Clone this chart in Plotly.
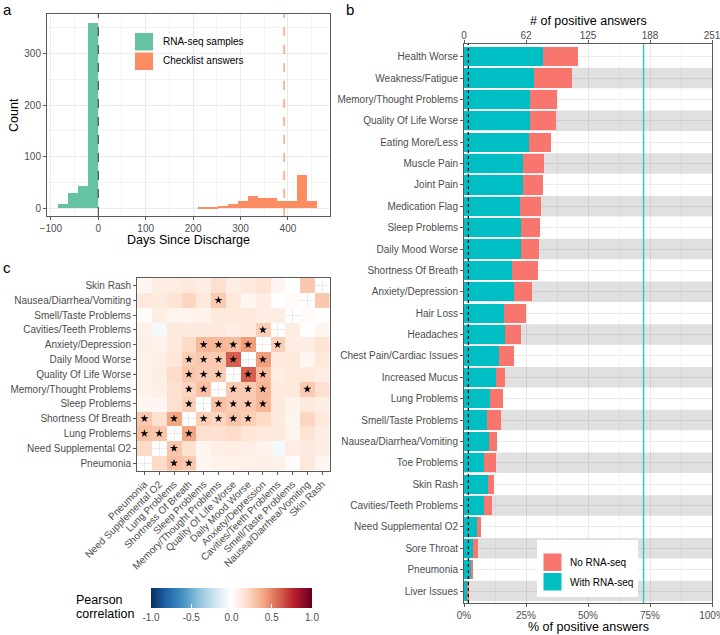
import plotly.graph_objects as go

W, H = 720, 635
FONT = "Liberation Sans"
TICK_GREY = "#4d4d4d"
GRID = "#ebebeb"
GRID_MINOR = "#f3f3f3"
BORDER = "#5a5a5a"

COL_RNASEQ = "#66C2A5"
COL_CHECK = "#FC8D62"
COL_WITH = "#00BFC4"
COL_WITHOUT = "#F8766D"

# ── a: days since discharge ────────────────────────────────────────────────────
BINWIDTH = 21
rnaseq_bin_start = [-84, -63, -42, -21]
rnaseq_counts = [8, 30, 43, 360]
checklist_bin_start = [210, 231, 252, 273, 294, 315, 336, 357, 378, 399, 420, 441]
checklist_counts = [1, 1, 4, 8, 14, 23, 20, 20, 13, 13, 64, 14]
checklist_median_day = 392
days_ticks = [-100, 0, 100, 200, 300, 400]
days_minor = [-50, 50, 150, 250, 350, 450]
count_ticks = [0, 100, 200, 300]
count_minor = [50, 150, 250, 350]

# ── b: positive answers per symptom ────────────────────────────────────────────
symptoms = [
    "Health Worse", "Weakness/Fatigue", "Memory/Thought Problems",
    "Quality Of Life Worse", "Eating More/Less", "Muscle Pain", "Joint Pain",
    "Medication Flag", "Sleep Problems", "Daily Mood Worse",
    "Shortness Of Breath", "Anxiety/Depression", "Hair Loss", "Headaches",
    "Chest Pain/Cardiac Issues", "Increased Mucus", "Lung Problems",
    "Smell/Taste Problems", "Nausea/Diarrhea/Vomiting", "Toe Problems",
    "Skin Rash", "Cavities/Teeth Problems", "Need Supplemental O2",
    "Sore Throat", "Pneumonia", "Liver Issues",
]
pct_with_rnaseq = [32.0, 28.1, 26.5, 26.5, 26.2, 23.8, 23.8, 22.5, 23.0, 23.0,
                   19.4, 20.2, 16.1, 16.7, 14.1, 13.0, 10.5, 9.4, 10.1, 8.1,
                   9.6, 8.1, 5.4, 3.6, 3.2, 1.3]
pct_no_rnaseq = [14.1, 15.4, 10.9, 10.5, 8.7, 8.4, 7.9, 8.5, 7.6, 7.1,
                 10.3, 7.1, 8.8, 6.3, 6.1, 3.6, 5.2, 5.5, 3.2, 4.8,
                 2.5, 3.2, 1.5, 2.2, 0.6, 0.8]
rnaseq_share = 72.4
detection_floor = 1.75
pct_ticks = [0, 25, 50, 75, 100]
pct_minor = [12.5, 37.5, 62.5, 87.5]
n_answers_labels = ["0", "62", "125", "188", "251"]

# ── c: correlation between symptoms ────────────────────────────────────────────
corr_vars = [
    "Pneumonia", "Need Supplemental O2", "Lung Problems", "Shortness Of Breath",
    "Sleep Problems", "Memory/Thought Problems", "Quality Of Life Worse",
    "Daily Mood Worse", "Anxiety/Depression", "Cavities/Teeth Problems",
    "Smell/Taste Problems", "Nausea/Diarrhea/Vomiting", "Skin Rash",
]
# lower triangle, row i holds correlations with columns 0..i-1
corr_lower = [
    [],
    [0.20],
    [0.30, 0.28],
    [0.27, 0.16, 0.40],
    [0.05, 0.05, 0.17, 0.25],
    [0.07, 0.09, 0.17, 0.22, 0.30],
    [0.07, 0.10, 0.19, 0.28, 0.26, 0.26],
    [0.08, 0.09, 0.14, 0.25, 0.27, 0.26, 0.60],
    [0.09, 0.07, 0.12, 0.20, 0.33, 0.33, 0.32, 0.42],
    [0.08, -0.05, 0.12, 0.11, 0.11, 0.12, 0.10, 0.12, 0.25],
    [0.02, 0.10, 0.06, 0.06, 0.07, 0.12, 0.12, 0.12, 0.10, 0.10],
    [0.13, 0.11, 0.15, 0.22, 0.12, 0.26, 0.12, 0.05, 0.10, 0.00, 0.03],
    [0.05, 0.10, 0.10, 0.12, 0.10, 0.17, 0.10, 0.12, 0.15, 0.05, 0.00, 0.27],
]
signif_pairs = [
    (2, 0), (3, 0), (2, 1), (3, 2), (4, 3), (5, 3), (6, 3), (7, 3),
    (5, 4), (6, 4), (7, 4), (8, 4), (6, 5), (7, 5), (8, 5), (11, 5),
    (7, 6), (8, 6), (8, 7), (9, 8),
]
corr_ticks = [-1.0, -0.5, 0.0, 0.5, 1.0]
RDBU = ["#053061", "#2166ac", "#4393c3", "#92c5de", "#d1e5f0", "#ffffff",
        "#fddbc7", "#f4a582", "#d6604d", "#b2182b", "#67001f"]


def px_x(v):
    return v / W


def px_y(v):
    return 1 - v / H


def axis_style(**kw):
    d = dict(
        showline=True, mirror=True, linecolor=BORDER, linewidth=1,
        ticks="outside", ticklen=3, tickcolor=BORDER, tickwidth=1,
        tickfont=dict(size=10, color=TICK_GREY, family=FONT),
        showgrid=True, gridcolor=GRID, gridwidth=1, zeroline=False,
        fixedrange=True, automargin=False, ticklabeloverflow="allow",
    )
    d.update(kw)
    return d


fig = go.Figure()

# a
fig.add_trace(go.Bar(
    x=rnaseq_bin_start, y=rnaseq_counts, width=BINWIDTH, offset=0,
    marker=dict(color=COL_RNASEQ, line_width=0),
    xaxis="x", yaxis="y", showlegend=False,
))
fig.add_trace(go.Bar(
    x=checklist_bin_start, y=checklist_counts, width=BINWIDTH, offset=0,
    marker=dict(color=COL_CHECK, line_width=0),
    xaxis="x", yaxis="y", showlegend=False,
))

# b
fig.add_trace(go.Bar(
    y=symptoms, x=pct_with_rnaseq, orientation="h", width=0.9,
    marker=dict(color=COL_WITH, line_width=0),
    xaxis="x2", yaxis="y2", showlegend=False,
))
fig.add_trace(go.Bar(
    y=symptoms, x=pct_no_rnaseq, orientation="h", width=0.9,
    marker=dict(color=COL_WITHOUT, line_width=0),
    xaxis="x2", yaxis="y2", showlegend=False,
))
# keeps the top count axis alive
fig.add_trace(go.Scatter(
    x=[0, 100], y=[symptoms[0], symptoms[0]], mode="markers",
    marker=dict(opacity=0), hoverinfo="skip",
    xaxis="x4", yaxis="y2", showlegend=False,
))

# c
n = len(corr_vars)
z = [[None] * n for _ in range(n)]
for i, row in enumerate(corr_lower):
    for j, v in enumerate(row):
        z[i][j] = v
        z[j][i] = v

fig.add_trace(go.Heatmap(
    z=z, x=corr_vars, y=corr_vars, zmin=-1, zmax=1,
    colorscale=[[k / (len(RDBU) - 1), c] for k, c in enumerate(RDBU)],
    hoverongaps=False, xaxis="x3", yaxis="y3",
    colorbar=dict(
        orientation="h", x=px_x(231.5), xanchor="center",
        y=px_y(588), yanchor="top",
        lenmode="pixels", len=161, thicknessmode="pixels", thickness=20,
        outlinewidth=0, xpad=0, ypad=0,
        tickvals=corr_ticks, ticktext=[f"{t:.1f}" for t in corr_ticks],
        ticks="inside", tickcolor="white", ticklen=4,
        tickfont=dict(size=10, color=TICK_GREY, family=FONT),
    ),
))
star_x, star_y = [], []
for i, j in signif_pairs:
    star_x += [corr_vars[j], corr_vars[i]]
    star_y += [corr_vars[i], corr_vars[j]]
fig.add_trace(go.Scatter(
    x=star_x, y=star_y, mode="markers",
    marker=dict(symbol="star", size=6, color="black", line_width=0),
    xaxis="x3", yaxis="y3", showlegend=False, hoverinfo="skip",
))

shapes = []
# a: reference lines
shapes.append(dict(type="line", xref="x", yref="y domain", x0=0, x1=0, y0=0, y1=1,
                   line=dict(color="#333333", width=1, dash="dash")))
shapes.append(dict(type="line", xref="x", yref="y domain",
                   x0=checklist_median_day, x1=checklist_median_day, y0=0, y1=1,
                   line=dict(color=COL_CHECK, width=1.2, dash="dash")))
# b: alternating bands
for i in range(1, len(symptoms), 2):
    shapes.append(dict(type="rect", xref="x2", yref="y2", x0=0, x1=100,
                       y0=i - 0.48, y1=i + 0.48, fillcolor="rgba(0,0,0,0.12)",
                       line_width=0, layer="between"))
shapes.append(dict(type="line", xref="x2", yref="y2 domain",
                   x0=rnaseq_share, x1=rnaseq_share, y0=0, y1=1,
                   line=dict(color="#2cc5cb", width=1.4)))
shapes.append(dict(type="line", xref="x2", yref="y2 domain",
                   x0=detection_floor, x1=detection_floor, y0=0, y1=1,
                   line=dict(color="black", width=1.2, dash="dot")))

# legends drawn by hand (ggplot style square keys)
shapes += [
    dict(type="rect", xref="paper", yref="paper", x0=px_x(135), x1=px_x(153),
         y0=px_y(50.5), y1=px_y(33), fillcolor=COL_RNASEQ, line_width=0),
    dict(type="rect", xref="paper", yref="paper", x0=px_x(135), x1=px_x(153),
         y0=px_y(70), y1=px_y(52.5), fillcolor=COL_CHECK, line_width=0),
    dict(type="rect", xref="paper", yref="paper", x0=px_x(537), x1=px_x(638),
         y0=px_y(597), y1=px_y(540), fillcolor="white", line_width=0),
    dict(type="rect", xref="paper", yref="paper", x0=px_x(543.5), x1=px_x(561.5),
         y0=px_y(571), y1=px_y(553.5), fillcolor=COL_WITHOUT, line_width=0),
    dict(type="rect", xref="paper", yref="paper", x0=px_x(543.5), x1=px_x(561.5),
         y0=px_y(590.5), y1=px_y(573), fillcolor=COL_WITH, line_width=0),
]


def label(text, x, y, size=10, color="black", xanchor="left", angle=0, yanchor="middle"):
    return dict(text=text, x=px_x(x), y=px_y(y), xref="paper", yref="paper",
                xanchor=xanchor, yanchor=yanchor, showarrow=False, textangle=angle,
                font=dict(size=size, color=color, family=FONT))


annotations = [
    label("a", 1, 10, size=15),
    label("b", 344, 10, size=15),
    label("c", 1, 267, size=15),
    label("Count", 14, 115, size=12.5, xanchor="center", angle=-90),
    label("Days Since Discharge", 188.5, 240, size=12.5, xanchor="center"),
    label("RNA-seq samples", 160.5, 42, size=10),
    label("Checklist answers", 160.5, 61, size=10),
    label("# of positive answers", 588, 21, size=12.5, xanchor="center"),
    label("% of positive answers", 588, 627, size=12.5, xanchor="center"),
    label("No RNA-seq", 568, 562, size=10),
    label("With RNA-seq", 568, 582, size=10),
    label("Pearson", 74, 600, size=12.5),
    label("correlation", 74, 614, size=12.5),
]

fig.update_layout(
    width=W, height=H, autosize=False,
    margin=dict(l=0, r=0, t=0, b=0, autoexpand=False),
    paper_bgcolor="white", plot_bgcolor="white",
    font=dict(family=FONT, size=10, color="black"),
    barmode="stack", bargap=0,
    showlegend=False,
    shapes=shapes, annotations=annotations,
    xaxis=axis_style(
        domain=[px_x(47), px_x(330)], anchor="y", range=[-108.2, 488.8],
        tickvals=days_ticks,
        minor=dict(tickvals=days_minor, showgrid=True, gridcolor=GRID_MINOR, ticks=""),
    ),
    yaxis=axis_style(
        domain=[px_y(216), px_y(14)], anchor="x", range=[-15.5, 376.7],
        tickvals=count_ticks,
        minor=dict(tickvals=count_minor, showgrid=True, gridcolor=GRID_MINOR, ticks=""),
    ),
    xaxis2=axis_style(
        domain=[px_x(464), px_x(712)], anchor="y2", range=[0, 100],
        tickvals=pct_ticks, ticktext=[f"{v}%" for v in pct_ticks],
        minor=dict(tickvals=pct_minor, showgrid=True, gridcolor=GRID_MINOR, ticks=""),
    ),
    yaxis2=axis_style(
        domain=[px_y(603), px_y(44)], anchor="x2", type="category",
        categoryorder="array", categoryarray=symptoms, range=[25.56, -0.594],
    ),
    xaxis4=axis_style(
        overlaying="x2", side="top", anchor="y2", range=[0, 100],
        tickvals=pct_ticks, ticktext=n_answers_labels,
        showgrid=False, showline=False, ticklabelstandoff=-3,
    ),
    xaxis3=axis_style(
        domain=[px_x(137), px_x(329.5)], anchor="y3", type="category",
        categoryorder="array", categoryarray=corr_vars, range=[-0.5, 12.5],
        tickangle=-45,
    ),
    yaxis3=axis_style(
        domain=[px_y(470.5), px_y(278)], anchor="x3", type="category",
        categoryorder="array", categoryarray=corr_vars, range=[-0.5, 12.5],
    ),
)

# the page's default body margin would push the 720x635 figure off-window
fig.write_html("out.html", config={"displayModeBar": False},
               post_script="document.body.style.margin='0';")
